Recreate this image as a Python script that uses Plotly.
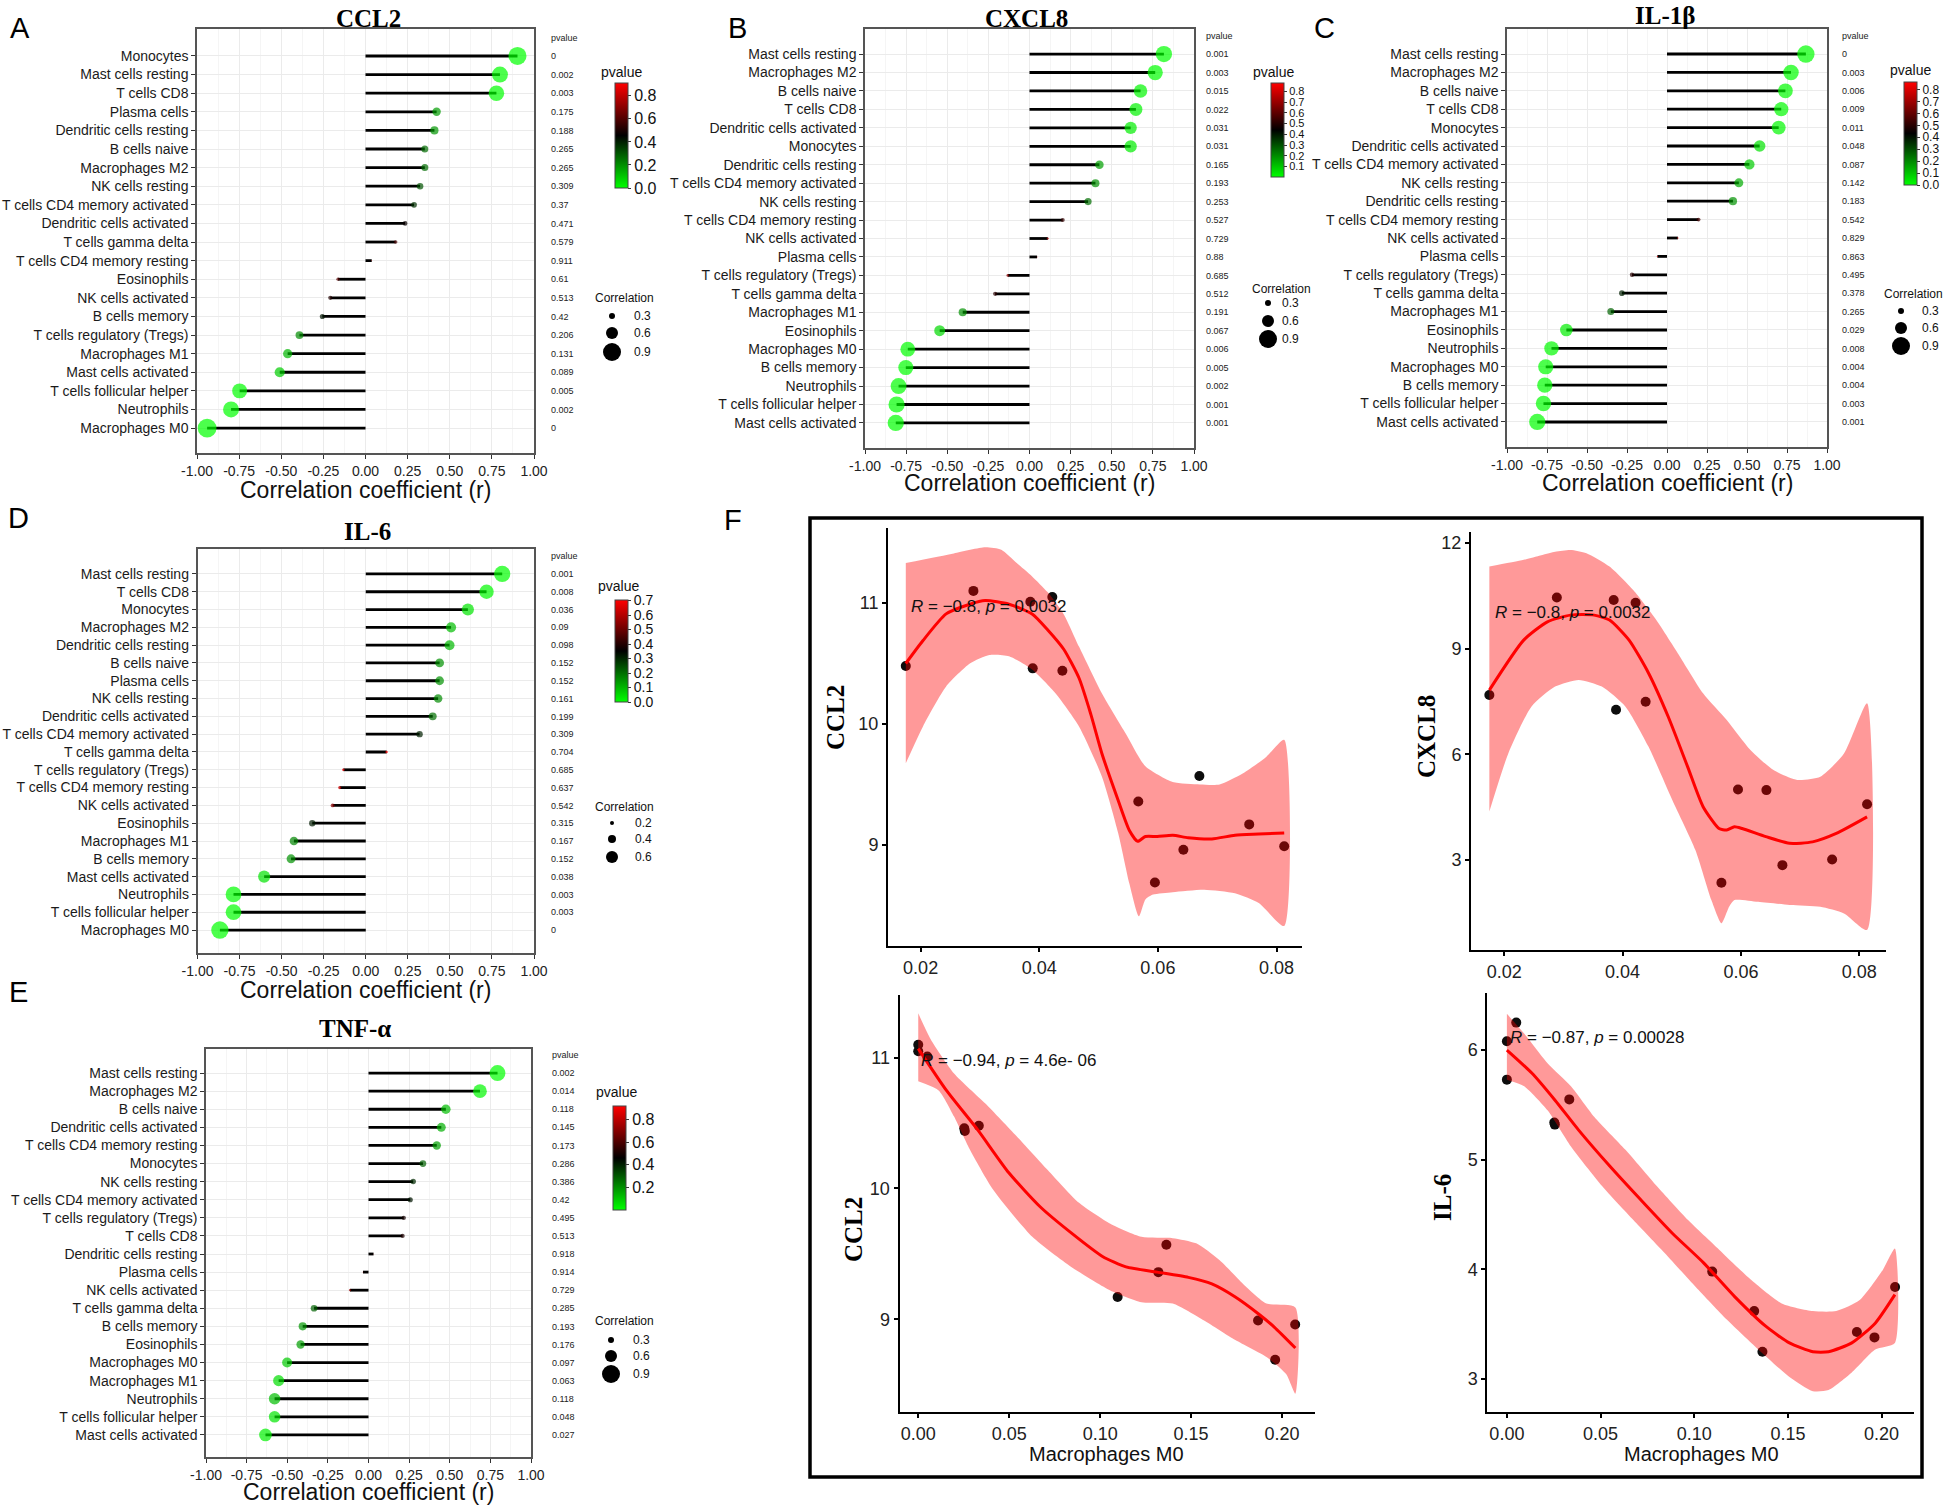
import plotly.graph_objects as go

W, H = 1944, 1510
SANS = "Liberation Sans, Arial, Helvetica, sans-serif"
SERIF = "Liberation Serif, Times New Roman, serif"

# ---------------- DATA: lollipop panels (rows listed top -> bottom) ----------------
ccl2_cells = ["Monocytes", "Mast cells resting", "T cells CD8", "Plasma cells", "Dendritic cells resting",
              "B cells naive", "Macrophages M2", "NK cells resting", "T cells CD4 memory activated",
              "Dendritic cells activated", "T cells gamma delta", "T cells CD4 memory resting", "Eosinophils",
              "NK cells activated", "B cells memory", "T cells regulatory (Tregs)", "Macrophages M1",
              "Mast cells activated", "T cells follicular helper", "Neutrophils", "Macrophages M0"]
ccl2_r = [0.902, 0.798, 0.777, 0.422, 0.409, 0.352, 0.352, 0.324, 0.288, 0.235, 0.179, 0.037, -0.163,
          -0.209, -0.256, -0.392, -0.462, -0.509, -0.747, -0.798, -0.940]
ccl2_p = [0, 0.002, 0.003, 0.175, 0.188, 0.265, 0.265, 0.309, 0.37, 0.471, 0.579, 0.911, 0.61,
          0.513, 0.42, 0.206, 0.131, 0.089, 0.005, 0.002, 0]

cxcl8_cells = ["Mast cells resting", "Macrophages M2", "B cells naive", "T cells CD8", "Dendritic cells activated",
               "Monocytes", "Dendritic cells resting", "T cells CD4 memory activated", "NK cells resting",
               "T cells CD4 memory resting", "NK cells activated", "Plasma cells", "T cells regulatory (Tregs)",
               "T cells gamma delta", "Macrophages M1", "Eosinophils", "Macrophages M0", "B cells memory",
               "Neutrophils", "T cells follicular helper", "Mast cells activated"]
cxcl8_r = [0.817, 0.764, 0.675, 0.647, 0.615, 0.615, 0.425, 0.401, 0.356, 0.202, 0.111, 0.046, -0.132,
           -0.209, -0.406, -0.546, -0.740, -0.752, -0.796, -0.808, -0.813]
cxcl8_p = [0.001, 0.003, 0.015, 0.022, 0.031, 0.031, 0.165, 0.193, 0.253, 0.527, 0.729, 0.88, 0.685,
           0.512, 0.191, 0.067, 0.006, 0.005, 0.002, 0.001, 0.001]

il1b_cells = ["Mast cells resting", "Macrophages M2", "B cells naive", "T cells CD8", "Monocytes",
              "Dendritic cells activated", "T cells CD4 memory activated", "NK cells resting",
              "Dendritic cells resting", "T cells CD4 memory resting", "NK cells activated", "Plasma cells",
              "T cells regulatory (Tregs)", "T cells gamma delta", "Macrophages M1", "Eosinophils",
              "Neutrophils", "Macrophages M0", "B cells memory", "T cells follicular helper",
              "Mast cells activated"]
il1b_r = [0.868, 0.775, 0.740, 0.714, 0.698, 0.579, 0.515, 0.449, 0.412, 0.197, 0.068, -0.060, -0.219,
          -0.282, -0.351, -0.629, -0.722, -0.758, -0.764, -0.772, -0.811]
il1b_p = [0, 0.003, 0.006, 0.009, 0.011, 0.048, 0.087, 0.142, 0.183, 0.542, 0.829, 0.863, 0.495,
          0.378, 0.265, 0.029, 0.008, 0.004, 0.004, 0.003, 0.001]

il6_cells = ["Mast cells resting", "T cells CD8", "Monocytes", "Macrophages M2", "Dendritic cells resting",
             "B cells naive", "Plasma cells", "NK cells resting", "Dendritic cells activated",
             "T cells CD4 memory activated", "T cells gamma delta", "T cells regulatory (Tregs)",
             "T cells CD4 memory resting", "NK cells activated", "Eosinophils", "Macrophages M1",
             "B cells memory", "Mast cells activated", "Neutrophils", "T cells follicular helper",
             "Macrophages M0"]
il6_r = [0.811, 0.718, 0.607, 0.507, 0.498, 0.439, 0.439, 0.430, 0.398, 0.320, 0.124, -0.133, -0.155,
         -0.197, -0.318, -0.427, -0.444, -0.604, -0.786, -0.786, -0.867]
il6_p = [0.001, 0.008, 0.036, 0.09, 0.098, 0.152, 0.152, 0.161, 0.199, 0.309, 0.704, 0.685, 0.637,
         0.542, 0.315, 0.167, 0.152, 0.038, 0.003, 0.003, 0]

tnfa_cells = ["Mast cells resting", "Macrophages M2", "B cells naive", "Dendritic cells activated",
              "T cells CD4 memory resting", "Monocytes", "NK cells resting", "T cells CD4 memory activated",
              "T cells regulatory (Tregs)", "T cells CD8", "Dendritic cells resting", "Plasma cells",
              "NK cells activated", "T cells gamma delta", "B cells memory", "Eosinophils", "Macrophages M0",
              "Macrophages M1", "Neutrophils", "T cells follicular helper", "Mast cells activated"]
tnfa_r = [0.794, 0.686, 0.476, 0.448, 0.420, 0.335, 0.275, 0.257, 0.217, 0.210, 0.031, -0.034, -0.114,
          -0.335, -0.405, -0.418, -0.501, -0.553, -0.578, -0.578, -0.634]
tnfa_p = [0.002, 0.014, 0.118, 0.145, 0.173, 0.286, 0.386, 0.42, 0.495, 0.513, 0.918, 0.914, 0.729,
          0.285, 0.193, 0.176, 0.097, 0.063, 0.118, 0.048, 0.027]

corr_ticks = [-1.0, -0.75, -0.5, -0.25, 0.0, 0.25, 0.5, 0.75, 1.0]
size_leg_std = [0.3, 0.6, 0.9]
size_leg_il6 = [0.2, 0.4, 0.6]

# ---------------- DATA: panel F scatter (Macrophages M0 vs expression) ----------------
top_m0 = [0.0175, 0.0289, 0.0385, 0.0389, 0.0422, 0.0439, 0.0567, 0.0595, 0.0643, 0.0670, 0.0754, 0.0813]
top_ccl2 = [10.48, 11.10, 11.01, 10.46, 11.05, 10.44, 9.36, 8.69, 8.96, 9.57, 9.17, 8.99]
top_cxcl8 = [7.68, 10.45, 10.38, 7.26, 10.30, 7.49, 2.35, 5.00, 4.98, 2.85, 3.01, 4.58]
bot_m0 = [0.0, 0.0, 0.005, 0.0253, 0.0256, 0.0333, 0.1096, 0.1320, 0.1364, 0.1868, 0.1962, 0.2072]
bot_ccl2 = [11.10, 11.05, 11.01, 10.46, 10.44, 10.48, 9.17, 9.36, 9.57, 8.99, 8.69, 8.96]
bot_il6 = [6.08, 5.73, 6.25, 5.34, 5.32, 5.55, 3.98, 3.62, 3.25, 3.43, 3.38, 3.84]

# loess fits and confidence bands
f1_fit_x = [0.0175, 0.0204, 0.0243, 0.0283, 0.0309, 0.0349, 0.0388, 0.0414, 0.0441, 0.0467, 0.0487, 0.0506,
            0.0533, 0.0552, 0.0566, 0.0579, 0.0599, 0.0625, 0.0651, 0.0691, 0.0730, 0.0770, 0.0813]
f1_fit_y = [10.50, 10.69, 10.91, 10.99, 11.02, 10.99, 10.91, 10.78, 10.62, 10.38, 10.08, 9.75,
            9.37, 9.12, 9.03, 9.07, 9.07, 9.08, 9.06, 9.05, 9.08, 9.09, 9.10]
f1_up_x = [0.0175, 0.0256, 0.0309, 0.0336, 0.0362, 0.0388, 0.0414, 0.0441, 0.0467, 0.0506, 0.0546, 0.0579,
           0.0625, 0.0671, 0.0704, 0.0743, 0.0783, 0.0813]
f1_up_y = [11.33, 11.41, 11.46, 11.44, 11.33, 11.22, 11.09, 10.91, 10.64, 10.25, 9.92, 9.65,
           9.52, 9.50, 9.50, 9.59, 9.73, 9.87]
f1_lo_x = [0.0175, 0.0204, 0.0243, 0.0283, 0.0316, 0.0349, 0.0388, 0.0428, 0.0467, 0.0506, 0.0533, 0.0552,
           0.0568, 0.0579, 0.0592, 0.0625, 0.0678, 0.0730, 0.0770, 0.0813]
f1_lo_y = [9.675, 9.98, 10.31, 10.50, 10.57, 10.56, 10.45, 10.25, 9.98, 9.56, 9.10, 8.68,
           8.41, 8.55, 8.59, 8.61, 8.63, 8.60, 8.52, 8.33]

f2_fit_x = [0.0175, 0.0233, 0.0273, 0.0312, 0.0352, 0.0378, 0.0411, 0.0444, 0.0477, 0.0510, 0.0536, 0.0563,
            0.0576, 0.0589, 0.0602, 0.0642, 0.0682, 0.0721, 0.0761, 0.0813]
f2_fit_y = [7.82, 9.24, 9.76, 9.95, 9.95, 9.81, 9.24, 8.30, 7.07, 5.64, 4.51, 3.89,
            3.85, 3.94, 3.89, 3.66, 3.47, 3.51, 3.75, 4.22]
f2_up_x = [0.0175, 0.0233, 0.0286, 0.0312, 0.0339, 0.0378, 0.0418, 0.0457, 0.0497, 0.0536, 0.0576, 0.0616,
           0.0655, 0.0695, 0.0734, 0.0774, 0.0813]
f2_up_y = [11.33, 11.52, 11.75, 11.80, 11.71, 11.33, 10.66, 9.81, 8.77, 7.73, 6.97, 6.12,
           5.55, 5.27, 5.36, 6.02, 7.45]
f2_lo_x = [0.0175, 0.0207, 0.0246, 0.0286, 0.0326, 0.0365, 0.0405, 0.0444, 0.0484, 0.0523, 0.0550, 0.0567,
           0.0580, 0.0589, 0.0629, 0.0682, 0.0734, 0.0774, 0.0813]
f2_lo_y = [4.37, 6.02, 7.35, 7.92, 8.11, 7.92, 7.35, 6.21, 4.70, 3.28, 1.86, 1.20,
           1.67, 1.86, 1.81, 1.72, 1.67, 1.48, 1.01]

f3_fit_x = [0.0, 0.0155, 0.0326, 0.0498, 0.0670, 0.0841, 0.1013, 0.1142, 0.1314, 0.1485, 0.1614, 0.1743,
            0.1871, 0.1957, 0.2073]
f3_fit_y = [11.07, 10.75, 10.45, 10.12, 9.86, 9.66, 9.48, 9.40, 9.36, 9.32, 9.27, 9.17, 9.04, 8.94, 8.78]
f3_up_x = [0.0, 0.0069, 0.0197, 0.0369, 0.0541, 0.0713, 0.0884, 0.1056, 0.1227, 0.1399, 0.1528, 0.1657,
           0.1786, 0.1914, 0.2073]
f3_up_y = [11.34, 11.14, 10.88, 10.65, 10.40, 10.14, 9.89, 9.73, 9.63, 9.62, 9.58, 9.45, 9.27, 9.12, 9.09]
f3_lo_x = [0.0, 0.0112, 0.0197, 0.0283, 0.0412, 0.0627, 0.0841, 0.1056, 0.1227, 0.1399, 0.1571, 0.1743,
           0.1914, 0.2022, 0.2073]
f3_lo_y = [10.82, 10.75, 10.55, 10.30, 9.99, 9.63, 9.40, 9.22, 9.13, 9.12, 8.99, 8.84, 8.71, 8.58, 8.43]

f4_fit_x = [0.0, 0.0133, 0.0258, 0.0383, 0.0550, 0.0717, 0.0883, 0.1050, 0.1217, 0.1383, 0.1508, 0.1633,
            0.1717, 0.1841, 0.1966, 0.2071]
f4_fit_y = [6.00, 5.79, 5.54, 5.27, 4.94, 4.63, 4.33, 4.06, 3.75, 3.48, 3.33, 3.25, 3.25, 3.33, 3.51, 3.77]
f4_up_x = [0.0, 0.0092, 0.0217, 0.0342, 0.0467, 0.0633, 0.0800, 0.0967, 0.1133, 0.1300, 0.1467, 0.1633,
           0.1758, 0.1883, 0.2008, 0.2071]
f4_up_y = [6.33, 6.15, 5.88, 5.67, 5.39, 5.09, 4.76, 4.45, 4.18, 3.91, 3.69, 3.62, 3.62, 3.72, 4.00, 4.19]
f4_lo_x = [0.0, 0.0092, 0.0217, 0.0342, 0.0508, 0.0675, 0.0842, 0.1008, 0.1175, 0.1342, 0.1508, 0.1633,
           0.1717, 0.1841, 0.1966, 0.2071]
f4_lo_y = [5.73, 5.67, 5.45, 5.12, 4.76, 4.45, 4.15, 3.84, 3.54, 3.27, 3.02, 2.89, 2.90, 3.06, 3.27, 3.33]

# ---------------- helpers ----------------
def fx(px):
    return px / W


def fy(py):
    return 1 - py / H


fig = go.Figure()
axes = {}
shapes = []
annots = []
counter = {"x": 0, "y": 0}
K = 20  # marker diameter (px) per unit |r|
CS = [[0, "#00FF00"], [0.5, "#000000"], [1, "#FF0000"]]


def new_axis(letter):
    counter[letter] += 1
    n = counter[letter]
    return f"{letter}axis" + ("" if n == 1 else str(n)), letter + ("" if n == 1 else str(n))


def text(x, y, s, size, family=SANS, xanchor="center", color="#111", angle=0):
    annots.append(dict(x=fx(x), y=fy(y), xref="paper", yref="paper", text=s, showarrow=False,
                       xanchor=xanchor, yanchor="middle", textangle=angle,
                       font=dict(family=family, size=size, color=color)))


def lollipop(cells, r, p, S):
    n = len(cells)
    ypos = [n - 1 - i for i in range(n)]
    xk, xr = new_axis("x")
    yk, yr = new_axis("y")
    y2k, y2r = new_axis("y")
    x0, x1, yt, yb = S["box"]
    axes[xk] = dict(domain=[fx(x0), fx(x1)], anchor=yr, range=[-1, 1], tickmode="array",
                    tickvals=corr_ticks, ticktext=[f"{v:.2f}" for v in corr_ticks],
                    ticks="outside", ticklen=4, tickcolor="#333", showgrid=True, gridcolor="#EBEBEB",
                    minor=dict(tickmode="array", tickvals=[v + 0.125 for v in corr_ticks[:-1]],
                               showgrid=True, gridcolor="#F5F5F5", ticks=""),
                    zeroline=False, showline=True, linecolor="#555", linewidth=1.5, mirror=True,
                    tickfont=dict(family=SANS, size=14, color="#222"))
    axes[yk] = dict(domain=[fy(yb), fy(yt)], anchor=xr, range=S["yr"], tickmode="array",
                    tickvals=ypos, ticktext=cells, ticks="outside", ticklen=4, tickcolor="#333",
                    showgrid=True, gridcolor="#EBEBEB", zeroline=False, showline=True,
                    linecolor="#555", linewidth=1.5, mirror=True,
                    tickfont=dict(family=SANS, size=14, color="#1a1a1a"))
    axes[y2k] = dict(overlaying=yr, side="right", anchor=xr, range=S["yr"], tickmode="array",
                     tickvals=ypos + [n], ticktext=[f"{v:g}" for v in p] + ["pvalue"],
                     showgrid=False, zeroline=False, showline=False, ticks="",
                     ticklabelstandoff=S["pstand"],
                     tickfont=dict(family=SANS, size=9, color="#222"))
    sx, sy = [], []
    for v, yy in zip(r, ypos):
        sx += [0, v, None]
        sy += [yy, yy, None]
    fig.add_trace(go.Scatter(x=sx, y=sy, mode="lines", line=dict(color="black", width=2.8),
                             xaxis=xr, yaxis=yr, hoverinfo="skip", showlegend=False))
    cbx, cby, cblen, cbd, cbf = S["cbar"]
    fig.add_trace(go.Scatter(
        x=r, y=ypos, mode="markers", xaxis=xr, yaxis=yr, showlegend=False,
        marker=dict(size=[abs(v) * K for v in r], color=p, colorscale=CS, cmin=min(p), cmax=max(p),
                    line=dict(width=0), showscale=True,
                    colorbar=dict(x=fx(cbx), xanchor="left", y=fy(cby), yanchor="top", len=cblen,
                                  lenmode="pixels", thickness=13, thicknessmode="pixels", xpad=0, ypad=0,
                                  outlinewidth=1, outlinecolor="#444", ticks="outside", ticklen=3,
                                  tickcolor="#333", tickmode="linear", tick0=0, dtick=cbd,
                                  tickformat=".1f", tickfont=dict(family=SANS, size=cbf, color="#111")))))
    fig.add_trace(go.Scatter(x=[None], y=[None], xaxis=xr, yaxis=y2r, showlegend=False, hoverinfo="skip"))
    # titles and labels
    text(S["title"][0], S["title"][1], f"<b>{S['name']}</b>", 25, SERIF, color="#000")
    text((x0 + x1) / 2, S["xtitle_y"], "Correlation coefficient (r)", 23, color="#111")
    text(S["label"][0], S["label"][1], S["letter"], 29, color="#000")
    text(S["cbtitle"][0], S["cbtitle"][1], "pvalue", 14)
    cx, cy = S["corrtitle"]
    text(cx, cy, "Correlation", 12)
    dx, dys, lx = S["dots"]
    for v, dy in zip(S["legvals"], dys):
        rad = abs(v) * K / 2
        shapes.append(dict(type="circle", xref="paper", yref="paper", xsizemode="pixel", ysizemode="pixel",
                           xanchor=fx(dx), yanchor=fy(dy), x0=-rad, x1=rad, y0=-rad, y1=rad,
                           fillcolor="black", line=dict(width=0)))
        text(lx, dy, f"{v:.1f}", 12, xanchor="left")


lollipop(ccl2_cells, ccl2_r, ccl2_p, dict(
    name="CCL2", letter="A", box=(197, 534, 29, 453), yr=[-1.34, 21.45], pstand=16,
    cbar=(615, 83, 105, 0.2, 16), cbtitle=(621, 72), corrtitle=(624, 298),
    dots=(612, [316, 333, 352], 632), legvals=size_leg_std, title=(368, 18), xtitle_y=490, label=(20, 28)))
lollipop(cxcl8_cells, cxcl8_r, cxcl8_p, dict(
    name="CXCL8", letter="B", box=(865, 1194, 29, 448), yr=[-1.36, 21.36], pstand=11,
    cbar=(1271, 83, 94, 0.1, 11), cbtitle=(1273, 72), corrtitle=(1281, 289),
    dots=(1268, [303, 321, 339], 1280), legvals=size_leg_std, title=(1026, 18), xtitle_y=483, label=(737, 28)))
lollipop(il1b_cells, il1b_r, il1b_p, dict(
    name="IL-1β", letter="C", box=(1507, 1827, 29, 447), yr=[-1.36, 21.36], pstand=14,
    cbar=(1904, 82, 103, 0.1, 12), cbtitle=(1910, 70), corrtitle=(1913, 294),
    dots=(1901, [311, 328, 346], 1920), legvals=size_leg_std, title=(1665, 16), xtitle_y=483, label=(1324, 28)))
lollipop(il6_cells, il6_r, il6_p, dict(
    name="IL-6", letter="D", box=(197.5, 534, 549, 953), yr=[-1.29, 21.40], pstand=16,
    cbar=(615, 600, 102, 0.1, 14), cbtitle=(618, 586), corrtitle=(624, 807),
    dots=(612, [823, 839, 857], 633), legvals=size_leg_il6, title=(367, 531), xtitle_y=990, label=(18, 518)))
lollipop(tnfa_cells, tnfa_r, tnfa_p, dict(
    name="TNF-α", letter="E", box=(206, 531, 1049, 1457), yr=[-1.22, 21.33], pstand=20,
    cbar=(613, 1106, 104, 0.2, 16), cbtitle=(616, 1092), corrtitle=(624, 1321),
    dots=(611, [1340, 1356, 1374], 631), legvals=size_leg_std, title=(355, 1028), xtitle_y=1492,
    label=(18, 992)))


def scatter_panel(px_, py_, fit, up, lo, S):
    xk, xr = new_axis("x")
    yk, yr = new_axis("y")
    x0, x1, yt, yb = S["box"]
    axes[xk] = dict(domain=[fx(x0), fx(x1)], anchor=yr, range=S["xr"], tickmode="array",
                    tickvals=S["xt"], ticktext=[f"{v:.2f}" for v in S["xt"]], ticks="outside",
                    ticklen=4, tickwidth=1.5, tickcolor="black", showgrid=False, zeroline=False,
                    showline=True, linecolor="black", linewidth=2,
                    tickfont=dict(family=SANS, size=18, color="#222"))
    axes[yk] = dict(domain=[fy(yb), fy(yt)], anchor=xr, range=S["yr"], tickmode="array",
                    tickvals=S["yt"], ticktext=[f"{v:g}" for v in S["yt"]], ticks="outside",
                    ticklen=4, tickwidth=1.5, tickcolor="black", showgrid=False, zeroline=False,
                    showline=True, linecolor="black", linewidth=2,
                    tickfont=dict(family=SANS, size=18, color="#222"))
    fig.add_trace(go.Scatter(x=px_, y=py_, mode="markers", xaxis=xr, yaxis=yr, showlegend=False,
                             marker=dict(size=10, color="#0d0d0d", line=dict(width=0))))
    bx = list(up[0]) + list(reversed(lo[0]))
    by = list(up[1]) + list(reversed(lo[1]))
    fig.add_trace(go.Scatter(x=bx, y=by, mode="lines", fill="toself", fillcolor="rgba(255,0,0,0.40)",
                             line=dict(width=0, shape="spline", smoothing=0.6), xaxis=xr, yaxis=yr,
                             showlegend=False, hoverinfo="skip"))
    fig.add_trace(go.Scatter(x=fit[0], y=fit[1], mode="lines",
                             line=dict(color="#FF0000", width=3, shape="spline", smoothing=0.6),
                             xaxis=xr, yaxis=yr, showlegend=False, hoverinfo="skip"))
    text(S["ann"][0], S["ann"][1], S["anntext"], 17, xanchor="left", color="#111")
    text(S["ytitle"][0], S["ytitle"][1], f"<b>{S['yname']}</b>", 25, SERIF, color="#000", angle=-90)
    if S.get("xtitle"):
        text(S["xtitle"][0], S["xtitle"][1], "Macrophages M0", 20, color="#111")


top_xt = [0.02, 0.04, 0.06, 0.08]
bot_xt = [0.0, 0.05, 0.10, 0.15, 0.20]

scatter_panel(top_m0, top_ccl2, (f1_fit_x, f1_fit_y), (f1_up_x, f1_up_y), (f1_lo_x, f1_lo_y), dict(
    box=(888, 1302, 528, 946), xr=[0.0145, 0.0843], yr=[8.165, 11.62], xt=top_xt, yt=[9, 10, 11],
    ann=(909, 606), anntext="<i>R</i> = −0.8, <i>p</i> = 0.0032", ytitle=(836, 718), yname="CCL2"))
scatter_panel(top_m0, top_cxcl8, (f2_fit_x, f2_fit_y), (f2_up_x, f2_up_y), (f2_lo_x, f2_lo_y), dict(
    box=(1471, 1886, 532, 950), xr=[0.0144, 0.0845], yr=[0.44, 12.31], xt=top_xt, yt=[3, 6, 9, 12],
    ann=(1493, 612), anntext="<i>R</i> = −0.8, <i>p</i> = 0.0032", ytitle=(1426, 737), yname="CXCL8"))
scatter_panel(bot_m0, bot_ccl2, (f3_fit_x, f3_fit_y), (f3_up_x, f3_up_y), (f3_lo_x, f3_lo_y), dict(
    box=(899.5, 1315, 995, 1412), xr=[-0.0103, 0.2181], yr=[8.29, 11.48], xt=bot_xt, yt=[9, 10, 11],
    ann=(919, 1060), anntext="<i>R</i> = −0.94, <i>p</i> = 4.6e- 06", ytitle=(853, 1230), yname="CCL2",
    xtitle=(1106, 1454)))
scatter_panel(bot_m0, bot_il6, (f4_fit_x, f4_fit_y), (f4_up_x, f4_up_y), (f4_lo_x, f4_lo_y), dict(
    box=(1487.4, 1914, 993, 1412), xr=[-0.0104, 0.2173], yr=[2.70, 6.52], xt=bot_xt, yt=[3, 4, 5, 6],
    ann=(1508, 1037), anntext="<i>R</i> = −0.87, <i>p</i> = 0.00028", ytitle=(1442, 1198), yname="IL-6",
    xtitle=(1701, 1454)))

# panel F frame and label
shapes.append(dict(type="rect", xref="paper", yref="paper", x0=fx(810), x1=fx(1922), y0=fy(1477), y1=fy(518),
                   line=dict(color="black", width=3.5), fillcolor="rgba(0,0,0,0)"))
text(733, 520, "F", 29, color="#000")

fig.update_layout(width=W, height=H, margin=dict(l=0, r=0, t=0, b=0, pad=0, autoexpand=False),
                  paper_bgcolor="white", plot_bgcolor="white", showlegend=False,
                  shapes=shapes, annotations=annots, **axes)
# remove the default 8 px page margin so the figure fills the window exactly; hide the mode bar
fig.write_html("out.html", config={"displayModeBar": False},
               post_script="document.body.style.margin='0';document.body.style.overflow='hidden';")
